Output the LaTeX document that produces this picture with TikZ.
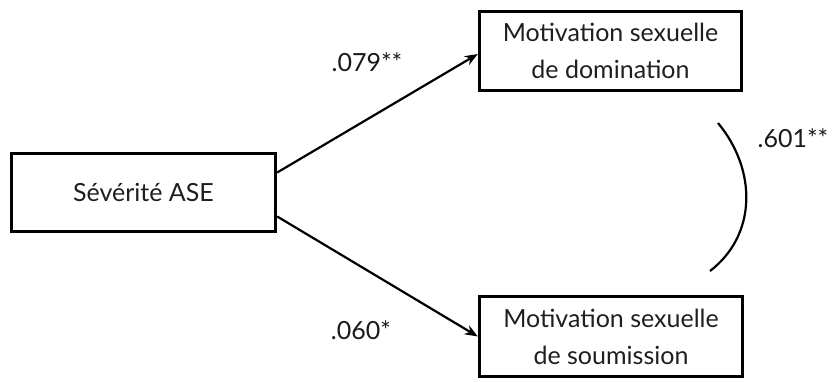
\documentclass[tikz,border=0pt]{standalone}
\usepackage{fontspec}
\setmainfont{Lato}
\usetikzlibrary{arrows.meta}
\begin{document}
\begin{tikzpicture}[x=1pt,y=-1pt,
  box/.style={draw=black, line width=3.4pt, inner sep=0pt, align=center,
    font=\fontsize{25}{37}\selectfont, text=black!88},
  conn/.style={line width=2.2pt, -{Stealth[length=13pt,width=10pt]}},
  coef/.style={font=\fontsize{25}{30}\selectfont, text=black!90, inner sep=0pt}]
\useasboundingbox (0,0) rectangle (836,381);
\node[box, minimum width=264pt, minimum height=78pt] (ase) at (143.5,192.5) {Sévérité ASE};
\node[box, minimum width=262pt, minimum height=79pt] (dom) at (610.5,51) {Motivation sexuelle\\de domination};
\node[box, minimum width=263pt, minimum height=80pt] (sou) at (611,336.5) {Motivation sexuelle\\de soumission};
\draw[conn] ([yshift=20pt]ase.east) -- ([yshift=-3pt]dom.west);
\draw[conn] ([yshift=-24pt]ase.east) -- (sou.west);
\coordinate (c1) at (718,123);
\coordinate (c2) at (710,271);
\draw[line width=2.2pt] (c1) .. controls (757,170) and (757,235) .. (c2);
\node[coef] (l1) at (367,62) {.079**};
\node[coef] (l2) at (361,330) {.060*};
\node[coef] (l3) at (793,138) {.601**};
\end{tikzpicture}
\end{document}
